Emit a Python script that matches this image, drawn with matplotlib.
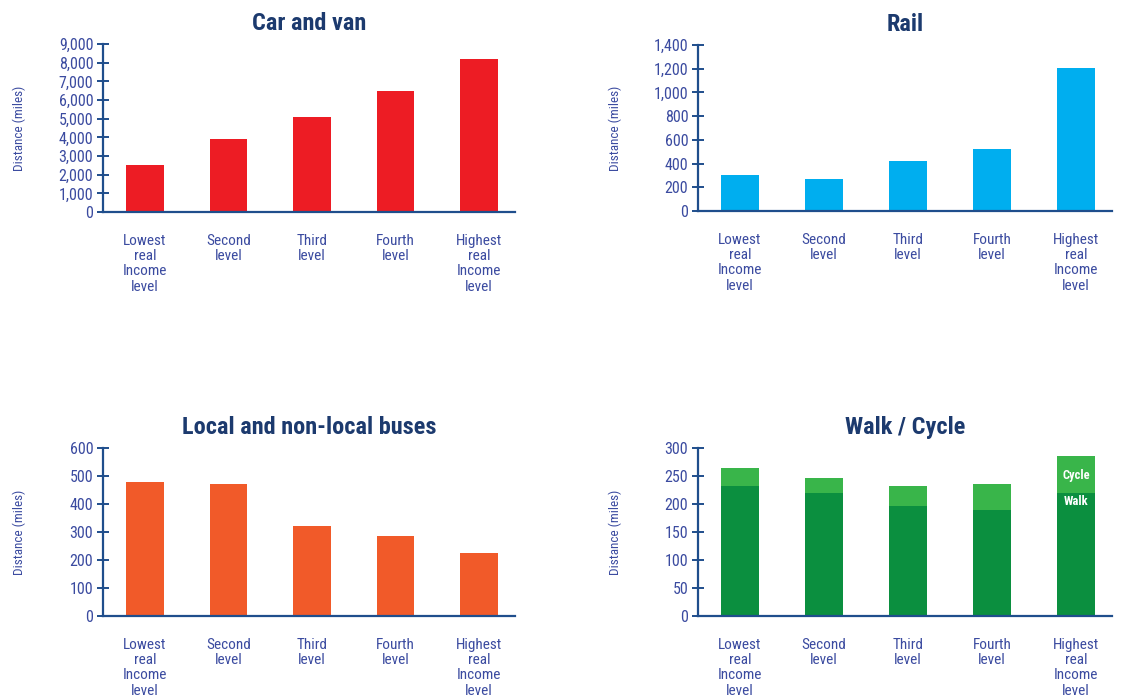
import matplotlib
matplotlib.use("Agg")
import matplotlib.pyplot as plt
from matplotlib import font_manager
from matplotlib.ticker import FuncFormatter, MultipleLocator

names = sorted({f.name for f in font_manager.fontManager.ttflist})
cands = ["Liberation Sans Narrow", "Roboto Condensed", "Open Sans Condensed",
         "DejaVu Sans Condensed"]
FONT = next((c for c in cands if c in names), "DejaVu Sans")
plt.rcParams['font.family'] = [FONT, 'DejaVu Sans']
plt.rcParams['font.stretch'] = 'condensed'

categories = ["Lowest\nreal\nIncome\nlevel", "Second\nlevel", "Third\nlevel",
              "Fourth\nlevel", "Highest\nreal\nIncome\nlevel"]

car_van = [2500, 3900, 5100, 6500, 8200]
rail = [300, 270, 420, 520, 1210]
buses = [480, 470, 320, 285, 225]
walk = [233, 219, 197, 190, 219]
cycle = [32, 28, 36, 46, 67]

AX = "#1f4e8c"
TXT = "#3b4ba0"
TITLE = "#1c3a6e"

W, H = 1122, 697
fig = plt.figure(figsize=(W / 100, H / 100), dpi=100)

def make_ax(left, top, right, bottom):
    return fig.add_axes([left / W, 1 - bottom / H, (right - left) / W, (bottom - top) / H])

def style(ax, title, ymax, step, left_px, label_px):
    x = list(range(len(categories)))
    ax.set_xlim(-0.5, 4.43)
    ax.set_ylim(0, ymax)
    ax.yaxis.set_major_locator(MultipleLocator(step))
    ax.yaxis.set_major_formatter(FuncFormatter(lambda v, p: f"{int(v):,}"))
    for s in ("top", "right"):
        ax.spines[s].set_visible(False)
    for s in ("left", "bottom"):
        ax.spines[s].set_color(AX)
        ax.spines[s].set_linewidth(1.6)
    ax.tick_params(axis="y", direction="inout", length=8, width=1.4, color=AX,
                   labelcolor=TXT, labelsize=11.5, pad=3)
    ax.set_xticks(x)
    ax.set_xticklabels(categories, fontsize=11, color=TXT, linespacing=1.1)
    ax.tick_params(axis="x", length=0, pad=16)
    ax.set_title(title, fontsize=17.5, fontweight="bold", color=TITLE, pad=10)
    ax.set_ylabel("Distance (miles)", fontsize=9.5, color=TXT)
    axw = ax.get_position().width * W
    ax.yaxis.set_label_coords((label_px - left_px) / axw, 0.5)
    ax.set_facecolor("none")

x = list(range(len(categories)))
bw = 0.45

ax1 = make_ax(103, 44, 515, 212)
ax1.bar(x, car_van, width=bw, color="#ed1c24")
style(ax1, "Car and van", 9000, 1000, 103, 26)

ax2 = make_ax(698, 45, 1112, 211)
ax2.bar(x, rail, width=bw, color="#00aeef")
style(ax2, "Rail", 1400, 200, 698, 622)

ax3 = make_ax(103, 448, 515, 616)
ax3.bar(x, buses, width=bw, color="#f15a29")
style(ax3, "Local and non-local buses", 600, 100, 103, 26)

ax4 = make_ax(698, 448, 1112, 616)
ax4.bar(x, walk, width=bw, color="#0b8f3f")
ax4.bar(x, cycle, bottom=walk, width=bw, color="#39b54a")
style(ax4, "Walk / Cycle", 300, 50, 698, 622)
ax4.text(x[-1], walk[-1] + cycle[-1] / 2 - 2, "Cycle", color="white", fontsize=9,
         fontweight="bold", ha="center", va="center")
ax4.text(x[-1], walk[-1] - 3, "Walk", color="white", fontsize=9,
         fontweight="bold", ha="center", va="top")

fig.savefig("out.png", dpi=100)
